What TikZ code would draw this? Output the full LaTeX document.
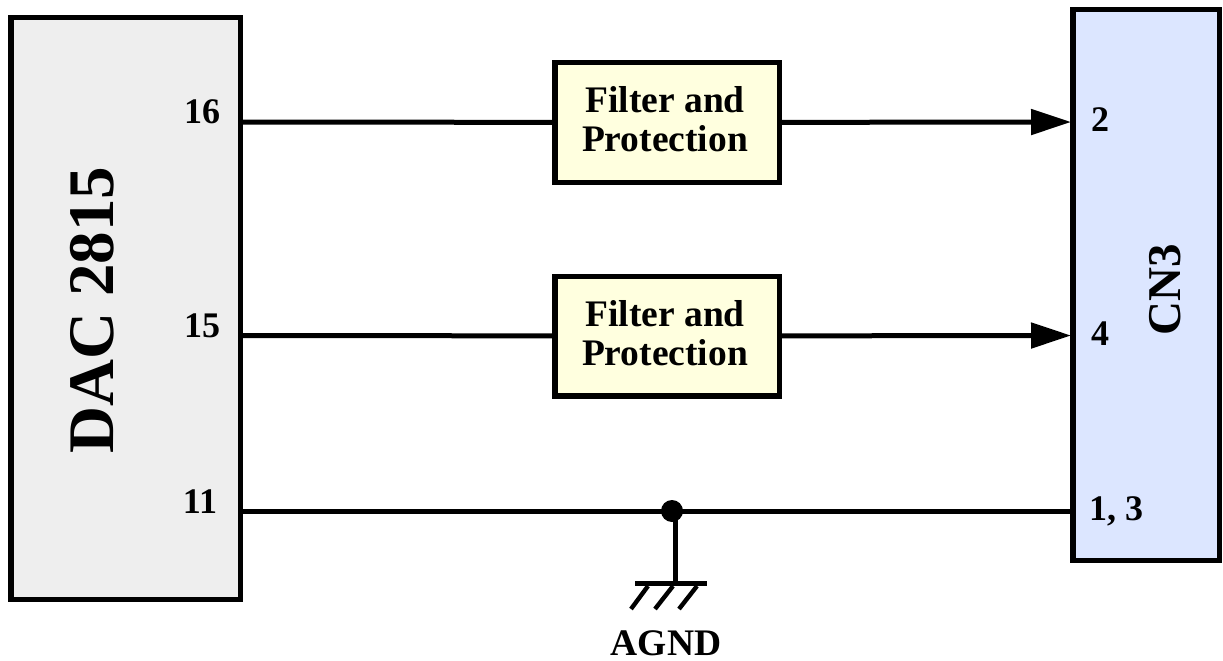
\documentclass[tikz,border=0pt]{standalone}
\usepackage{fontspec}
\setmainfont{Liberation Serif}
\usetikzlibrary{arrows.meta}
\definecolor{dacfill}{HTML}{EEEEEE}
\definecolor{cnfill}{HTML}{DCE6FF}
\definecolor{filterfill}{HTML}{FFFFDF}
\begin{document}
\begin{tikzpicture}[x=1pt,y=-1pt,
  blockbox/.style={draw=black,line width=5.5pt,inner sep=0pt,anchor=north west},
  filterbox/.style={blockbox,fill=filterfill,minimum width=224.5pt,minimum height=119.5pt,anchor=center},
  filtertext/.style={align=center,inner sep=0pt,font=\bfseries\fontsize{37.5}{39}\selectfont},
  wire/.style={line width=5pt},
  pointer/.style={wire,-{Stealth[length=40pt,width=25pt,inset=0pt]}},
  lbl/.style={font=\bfseries\fontsize{36}{40}\selectfont,inner sep=0pt}]
\useasboundingbox (0,0) rectangle (1223,661);
\node[blockbox,fill=dacfill,minimum width=229.5pt,minimum height=581.5pt] (dac) at (8,15) {};
\node[font=\bfseries\fontsize{65}{70}\selectfont,rotate=90,inner sep=0pt] (dact) at (92,310) {DAC 2815};
\node[blockbox,fill=cnfill,minimum width=146.5pt,minimum height=550.5pt] (cn) at (1070,7) {};
\node[font=\bfseries\fontsize{47}{50}\selectfont,rotate=90,inner sep=0pt] (cnt) at (1165,290) {CN3};
\node[filterbox] (f1) at (667,122.5) {};
\node[filterbox] (f2) at (667,336) {};
\node[filtertext] (f1t) at (665,119.5) {Filter and\\Protection};
\node[filtertext] (f2t) at (665,333) {Filter and\\Protection};
\coordinate (d16) at (243,122);
\coordinate (d15) at (243,335.5);
\coordinate (d11) at (243,511);
\coordinate (c2) at (1071,122);
\coordinate (c4) at (1071,335.5);
\coordinate (c13) at (1072,511);
\coordinate (j) at (672,511);
\coordinate (jl) at (675,511);
\coordinate (g) at (675,583);
\coordinate (gl) at (635,583);
\coordinate (gr) at (707,583);
\coordinate (h1a) at (648,586);
\coordinate (h1b) at (631,609);
\coordinate (h2a) at (673,586);
\coordinate (h2b) at (655,609);
\coordinate (h3a) at (697,586);
\coordinate (h3b) at (679,609);
\draw[wire] (d16) -- (f1);
\draw[wire] (d15) -- (f2);
\draw[wire] (d11) -- (c13);
\draw[pointer] (f1) -- (c2);
\draw[pointer] (f2) -- (c4);
\fill (j) circle (11pt);
\draw[wire] (jl) -- (g);
\draw[wire] (gl) -- (gr);
\draw[line width=4.4pt] (h1a) -- (h1b) (h2a) -- (h2b) (h3a) -- (h3b);
\node[lbl] (l16) at (202,112) {16};
\node[lbl] (l15) at (202,326) {15};
\node[lbl] (l11) at (200,502) {11};
\node[lbl] (l2) at (1100,120) {2};
\node[lbl] (l4) at (1100,334) {4};
\node[lbl] (l13) at (1116,511) {1, 3};
\node[font=\bfseries\fontsize{37.5}{40}\selectfont,inner sep=0pt] (agnd) at (666,643) {AGND};
\end{tikzpicture}
\end{document}
